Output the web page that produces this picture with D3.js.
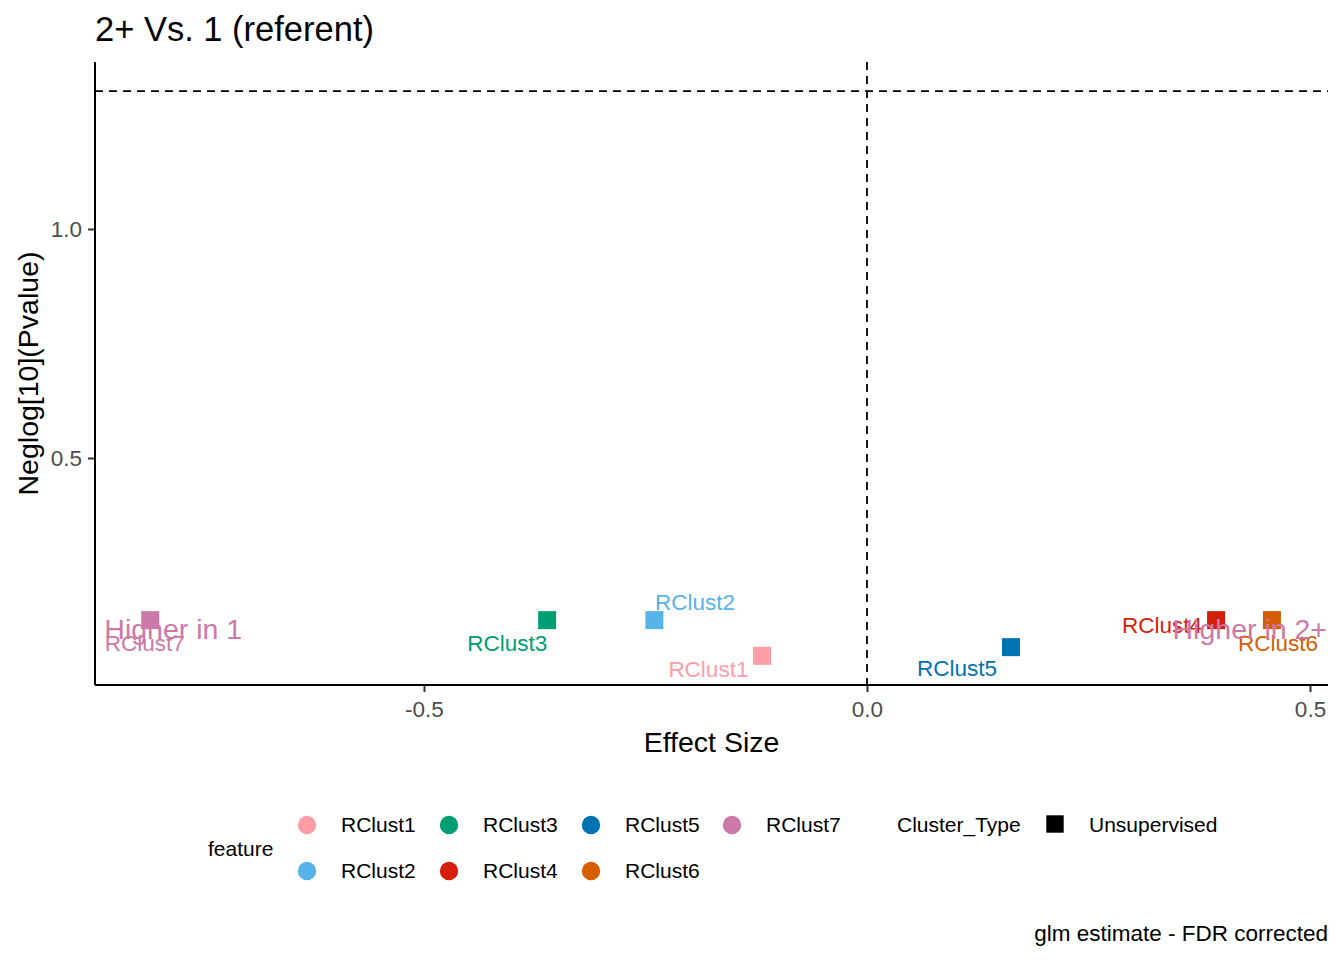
<!DOCTYPE html>
<html>
<head>
<meta charset="utf-8">
<script src="https://cdn.jsdelivr.net/npm/d3@7/dist/d3.min.js"></script>
<style>
  body { margin: 0; background: #fff; }
  svg text { font-family: "Liberation Sans", Arial, sans-serif; }
</style>
</head>
<body>
<svg id="chart" width="1344" height="960"></svg>
<script>
// ---- data ----
const features = ["RClust1", "RClust2", "RClust3", "RClust4", "RClust5", "RClust6", "RClust7"];
const colors = ["#FF9DA7", "#56B4E9", "#009E73", "#D41F0A", "#0072B2", "#D55E00", "#CC79A7"];
const effectSize = [-0.1185, -0.240, -0.361, 0.394, 0.1625, 0.457, -0.809];
const negLogP = [0.068, 0.146, 0.146, 0.146, 0.087, 0.146, 0.146];
// repelled label positions (data units)
const labelX = [-0.179, -0.194, -0.406, 0.333, 0.1016, 0.464, -0.815];
const labelY = [0.039, 0.186, 0.096, 0.135, 0.0415, 0.096, 0.096];
const annotText = ["Higher in 1", "Higher in 2+"];
const annotX = [-0.783, 0.432];
const annotY = [0.1266, 0.1266];
const xTicks = [-0.5, 0.0, 0.5];
const yTicks = [0.5, 1.0];
const sigLine = -Math.log10(0.05);

// ---- layout ----
const svg = d3.select("#chart");
const L = 95, R = 1328, T = 62, B = 685;
const x = d3.scaleLinear().domain([-0.8713, 0.5203]).range([L, R]);
const y = d3.scaleLinear().domain([0.00437, 1.3646]).range([B, T]);

// title
svg.append("text").attr("x", 95).attr("y", 41).attr("font-size", 34.5).attr("fill", "#000")
  .text("2+ Vs. 1 (referent)");

// reference lines
svg.append("line").attr("x1", L).attr("x2", R).attr("y1", y(sigLine)).attr("y2", y(sigLine))
  .attr("stroke", "#000").attr("stroke-width", 1.8).attr("stroke-dasharray", "8,6");
svg.append("line").attr("x1", x(0)).attr("x2", x(0)).attr("y1", T).attr("y2", B)
  .attr("stroke", "#000").attr("stroke-width", 1.8).attr("stroke-dasharray", "8,6");

// axes
const xAxis = svg.append("g").attr("transform", `translate(0,${B})`)
  .call(d3.axisBottom(x).tickValues(xTicks).tickFormat(d3.format(".1f")).tickSize(7).tickPadding(9));
const yAxis = svg.append("g").attr("transform", `translate(${L},0)`)
  .call(d3.axisLeft(y).tickValues(yTicks).tickFormat(d3.format(".1f")).tickSize(7).tickPadding(6));
[xAxis, yAxis].forEach(g => {
  g.select(".domain").remove();
  g.selectAll(".tick line").attr("stroke", "#333").attr("stroke-width", 2);
  g.selectAll(".tick text").attr("fill", "#4D4D4D").attr("font-size", 22.5)
    .attr("font-family", "'Liberation Sans', Arial, sans-serif");
});
xAxis.selectAll(".tick text").text(d => d3.format(".1f")(d).replace("−", "-"));
svg.append("line").attr("x1", L).attr("x2", R).attr("y1", B).attr("y2", B).attr("stroke", "#000").attr("stroke-width", 2);
svg.append("line").attr("x1", L).attr("x2", L).attr("y1", T).attr("y2", B).attr("stroke", "#000").attr("stroke-width", 2);

// axis titles
svg.append("text").attr("x", (L + R) / 2).attr("y", 752).attr("text-anchor", "middle")
  .attr("font-size", 28.5).attr("fill", "#000").text("Effect Size");
svg.append("text").attr("transform", `translate(38,${(T + B) / 2}) rotate(-90)`)
  .attr("text-anchor", "middle").attr("font-size", 28.5).attr("fill", "#000").text("Neglog[10](Pvalue)");

// points
const pts = features.map((f, i) => ({ f, c: colors[i], x: effectSize[i], y: negLogP[i], lx: labelX[i], ly: labelY[i] }));
const S = 18;
svg.append("g").selectAll("rect").data(pts).join("rect")
  .attr("x", d => x(d.x) - S / 2).attr("y", d => y(d.y) - S / 2)
  .attr("width", S).attr("height", S).attr("fill", d => d.c);

// labels
svg.append("g").selectAll("text").data(pts).join("text")
  .attr("x", d => x(d.lx)).attr("y", d => y(d.ly)).attr("dy", "0.35em")
  .attr("text-anchor", "middle").attr("font-size", 22.5).attr("fill", d => d.c).text(d => d.f);

// annotations
const ann = svg.append("g");
annotText.forEach((t, j) => {
  ann.append("text").attr("x", x(annotX[j])).attr("y", y(annotY[j])).attr("dy", "0.35em")
    .attr("text-anchor", "middle").attr("font-size", 28.5).attr("fill", colors[6]).text(t);
});

// legend
const lg = svg.append("g");
lg.append("text").attr("x", 208).attr("y", 849).attr("dy", "0.35em").attr("font-size", 21).text("feature");
const colX = [307, 449, 591, 732];
const rowY = [825, 871];
features.forEach((f, i) => {
  const col = Math.floor(i / 2), row = i % 2;
  lg.append("circle").attr("cx", colX[col]).attr("cy", rowY[row]).attr("r", 9.2).attr("fill", colors[i]);
  lg.append("text").attr("x", colX[col] + 34).attr("y", rowY[row]).attr("dy", "0.35em")
    .attr("font-size", 21).attr("fill", "#000").text(f);
});
lg.append("text").attr("x", 897).attr("y", 825).attr("dy", "0.35em").attr("font-size", 21).text("Cluster_Type");
lg.append("rect").attr("x", 1055 - 8.7).attr("y", 824 - 8.7).attr("width", 17.4).attr("height", 17.4).attr("fill", "#000");
lg.append("text").attr("x", 1089).attr("y", 825).attr("dy", "0.35em").attr("font-size", 21).text("Unsupervised");

// caption
svg.append("text").attr("x", 1328).attr("y", 941).attr("text-anchor", "end").attr("font-size", 22.5)
  .attr("fill", "#000").text("glm estimate - FDR corrected");
</script>
</body>
</html>
